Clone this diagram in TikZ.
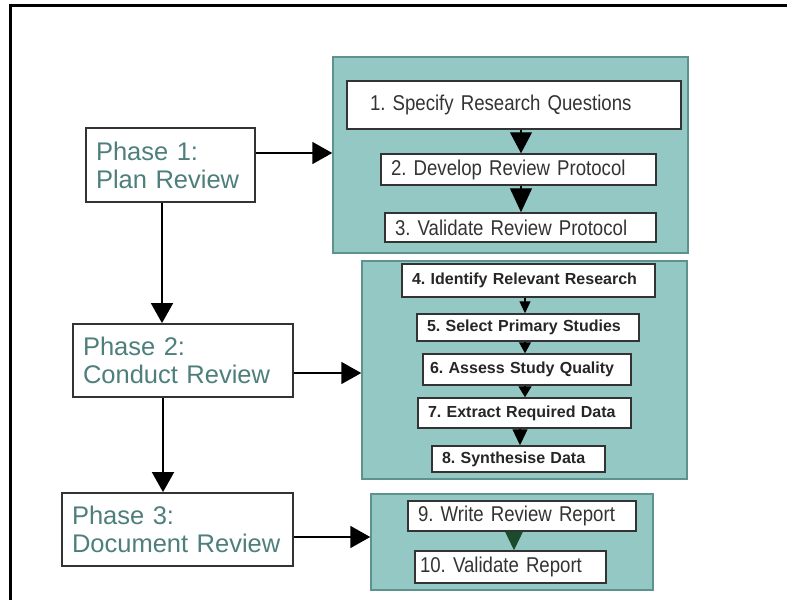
\documentclass[tikz,border=0pt]{standalone}
\usepackage{fontspec}
\setmainfont{Liberation Sans}
\newfontfamily\narrowf[FakeStretch=0.87]{Liberation Sans}
\usetikzlibrary{arrows.meta}
\frenchspacing
\definecolor{tealfill}{HTML}{93C8C5}
\definecolor{tealedge}{HTML}{5E928F}
\definecolor{phasetext}{HTML}{4E7F7C}
\definecolor{boxedge}{HTML}{333333}
\definecolor{darkgreen}{HTML}{1C4A2C}
\tikzset{
  group/.style={draw=tealedge, fill=tealfill, line width=1.5pt},
  phasebox/.style 2 args={draw=boxedge, fill=white, line width=1.8pt, minimum width=#1, minimum height=#2,
     text width=#1-20pt, inner xsep=10pt, align=left, text=phasetext, font=\frenchspacing\fontsize{25.5}{28}\selectfont},
  stepbox/.style 2 args={draw=boxedge, fill=white, line width=1.5pt, minimum width=#1, minimum height=#2,
     text width=#1-20pt, inner xsep=10pt, inner ysep=0pt, align=left, text=black!80,
     font=\frenchspacing\narrowf\fontsize{21.4}{23}\selectfont},
  boldbox/.style 2 args={draw=boxedge, fill=white, line width=1.5pt, minimum width=#1, minimum height=#2,
     text width=#1-20pt, inner xsep=10pt, inner ysep=0pt, align=left, text=black!85,
     font=\frenchspacing\bfseries\fontsize{16}{18}\selectfont},
  bigarr/.style={draw=black, line width=1.8pt, -{Triangle[length=20pt,width=22pt]}},
}
\begin{document}
\begin{tikzpicture}[x=1pt,y=-1pt]
\useasboundingbox (0,0) rectangle (787,600);
% frame
\coordinate (ftl) at (10.5,5.5);
\coordinate (ftr) at (787,5.5);
\coordinate (fbl) at (10.5,600);
\draw[line width=3pt] (ftr) -- (ftl) -- (fbl);

% groups
\node[group, minimum width=355pt, minimum height=196pt] (G1) at (510.5,155) {};
\node[group, minimum width=325pt, minimum height=218pt] (G2) at (524.5,370) {};
\node[group, minimum width=282pt, minimum height=96pt] (G3) at (512,542) {};

% phase boxes
\node[phasebox={169pt}{74pt}] (P1) at (170.5,165) {Phase 1:\\Plan Review};
\node[phasebox={220pt}{73pt}] (P2) at (183,360.5) {Phase 2:\\Conduct Review};
\node[phasebox={231pt}{73pt}] (P3) at (177.5,529.5) {Phase 3:\\Document Review};

% step boxes
\node[stepbox={334pt}{48pt}, inner xsep=23pt, text width=288pt] (B1) at (514,105) {1. Specify Research Questions};
\node[stepbox={275pt}{31pt}] (B2) at (518.5,169.5) {2. Develop Review Protocol};
\node[stepbox={271pt}{29pt}] (B3) at (520.5,227.5) {3. Validate Review Protocol};
\node[boldbox={253pt}{33pt}] (B4) at (528.5,280.5) {4. Identify Relevant Research};
\node[boldbox={222pt}{27pt}] (B5) at (528,327.5) {5. Select Primary Studies};
\node[boldbox={208pt}{31pt}, inner xsep=7pt, text width=194pt] (B6) at (527,369.5) {6. Assess Study Quality};
\node[boldbox={213pt}{30pt}] (B7) at (524.5,413) {7. Extract Required Data};
\node[boldbox={173pt}{26pt}] (B8) at (518.5,459) {8. Synthesise Data};
\node[stepbox={228pt}{30pt}] (B9) at (522,516) {9. Write Review Report};
\node[stepbox={191pt}{32pt}, inner xsep=5pt, text width=181pt] (B10) at (510.5,567) {10. Validate Report};

% phase connectors
\coordinate (y1) at (0,153);
\coordinate (y2) at (0,373);
\coordinate (y3) at (0,537);
\coordinate (x12) at (162,0);
\coordinate (x23) at (163,0);
\draw[bigarr] (P1.east |- y1) -- (G1.west |- y1);
\draw[bigarr] (P2.east |- y2) -- (G2.west |- y2);
\draw[bigarr] (P3.east |- y3) -- (G3.west |- y3);
\draw[bigarr] (P1.south -| x12) -- (P2.north -| x12);
\draw[bigarr] (P2.south -| x23) -- (P3.north -| x23);

% inner connectors
\coordinate (xa) at (521,0);
\coordinate (xb) at (525,0);
\coordinate (xc) at (520,0);
\coordinate (xd) at (514,0);
\draw[line width=1.2pt, -{Triangle[length=21pt,width=22pt]}] (B1.south -| xa) -- (B2.north -| xa);
\draw[line width=1.2pt, -{Triangle[length=24pt,width=22pt]}] (B2.south -| xa) -- (B3.north -| xa);
\draw[line width=1.2pt, -{Triangle[length=12pt,width=11pt]}] (B4.south -| xb) -- (B5.north -| xb);
\draw[line width=1.2pt, -{Triangle[length=11pt,width=12pt]}] (B5.south -| xb) -- (B6.north -| xb);
\draw[line width=1.2pt, -{Triangle[length=11pt,width=13pt]}] (B6.south -| xb) -- (B7.north -| xb);
\draw[line width=1.2pt, -{Triangle[length=16pt,width=15pt]}] (B7.south -| xc) -- (B8.north -| xc);
\draw[line width=1.2pt, draw=darkgreen, fill=darkgreen, -{Triangle[length=19pt,width=18pt]}] (B9.south -| xd) -- (B10.north -| xd);
\end{tikzpicture}
\end{document}
